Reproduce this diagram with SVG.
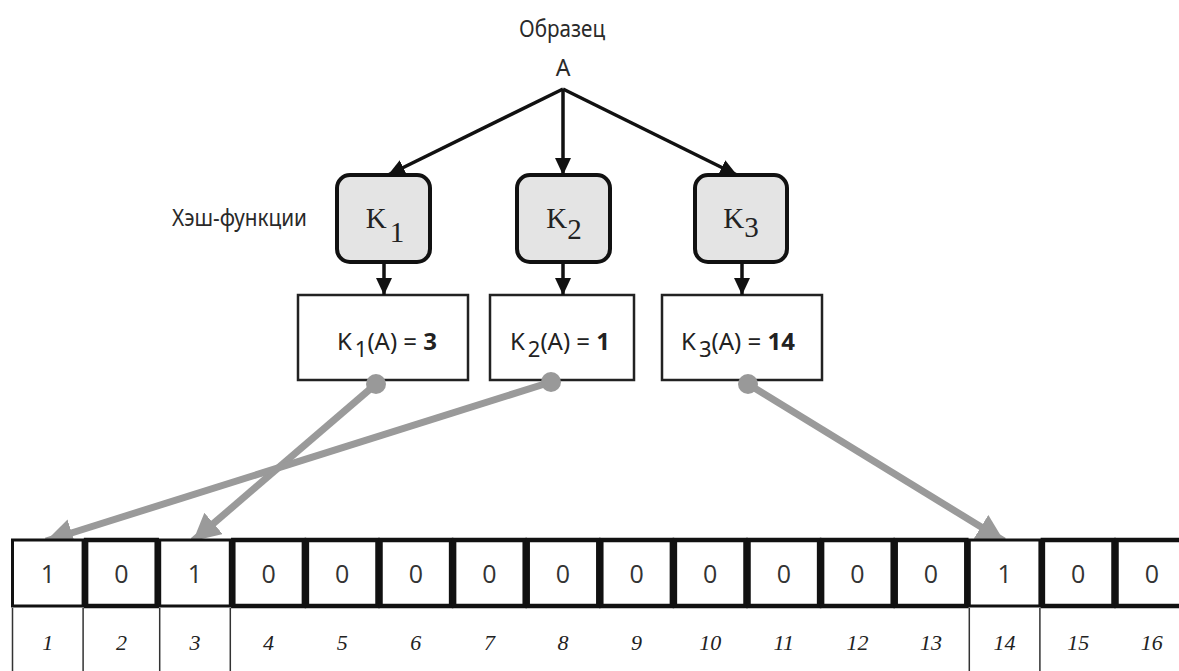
<svg xmlns="http://www.w3.org/2000/svg" width="1179" height="671" viewBox="0 0 1179 671">
  <style>
    .title { font-family: "Noto Sans", "Open Sans", sans-serif; font-size: 23px; fill: #2a2a2a; }
    .hbox { fill: #e4e4e4; stroke: #111; stroke-width: 4; }
    .klabel { font-family: "Liberation Serif", "Times New Roman", serif; font-size: 29px; fill: #222; }
    .rbox { fill: #fff; stroke: #222; stroke-width: 2.5; }
    .rlabel { font-family: "Noto Sans", "Open Sans", sans-serif; font-size: 24px; fill: #222; }
    .bold { font-weight: bold; }
    .black-arrow { stroke: #111; stroke-width: 3.5; fill: none; marker-end: url(#headBlack); }
    .gray-arrow { stroke: #9a9a9a; stroke-width: 7; fill: none; marker-end: url(#headGray); }
    .dot { fill: #999; }
    .cell0 { fill: #fff; stroke: #111; stroke-width: 4.5; }
    .cell1 { fill: #fff; stroke: #111; stroke-width: 3; }
    .bit { font-family: "Open Sans", "Noto Sans", sans-serif; font-size: 25px; fill: #333; text-anchor: middle; }
    .idx { font-family: "Liberation Serif", "Times New Roman", serif; font-style: italic; font-size: 22px; fill: #222; text-anchor: middle; }
    .idxline { stroke: #333; stroke-width: 1.5; fill: none; }
  </style>
  <defs>
    <marker id="headBlack" markerUnits="userSpaceOnUse" markerWidth="18" markerHeight="18" refX="17" refY="8" orient="auto">
      <path d="M0,0 L17,8 L0,16 z" fill="#111"/>
    </marker>
    <marker id="headGray" markerUnits="userSpaceOnUse" markerWidth="30" markerHeight="30" refX="27" refY="14" orient="auto">
      <path d="M0,0 L27,14 L0,28 z" fill="#9a9a9a"/>
    </marker>
  </defs>

  <rect width="1179" height="671" fill="#fff"/>

  <!-- source element -->
  <g id="source">
    <text class="title" x="562" y="37" text-anchor="middle" textLength="86" lengthAdjust="spacingAndGlyphs">Образец</text>
    <text class="title" x="563" y="76" text-anchor="middle" font-size="24">A</text>
  </g>

  <text id="hash-caption" class="title" x="172" y="226" textLength="135" lengthAdjust="spacingAndGlyphs">Хэш-функции</text>

  <!-- hash functions -->
  <g id="hash-k1">
    <rect class="hbox" x="337" y="175" width="93" height="87" rx="13"/>
    <text class="klabel" x="385" y="228" text-anchor="middle">K<tspan dx="3" dy="14">1</tspan></text>
  </g>
  <g id="hash-k2">
    <rect class="hbox" x="517" y="175" width="93" height="87" rx="13"/>
    <text class="klabel" x="564" y="228" text-anchor="middle">K<tspan dy="11">2</tspan></text>
  </g>
  <g id="hash-k3">
    <rect class="hbox" x="695" y="175" width="92" height="87" rx="13"/>
    <text class="klabel" x="741" y="228" text-anchor="middle">K<tspan dy="9">3</tspan></text>
  </g>

  <!-- hash results -->
  <g id="result-1">
    <rect class="rbox" x="298" y="295" width="170" height="85"/>
    <text class="rlabel" x="387" y="350" text-anchor="middle">K<tspan dx="3" dy="7" font-size="22">1</tspan><tspan dy="-7">(A) = </tspan><tspan class="bold">3</tspan></text>
  </g>
  <g id="result-2">
    <rect class="rbox" x="490" y="295" width="144" height="85"/>
    <text class="rlabel" x="560" y="350" text-anchor="middle">K<tspan dx="3" dy="7" font-size="22">2</tspan><tspan dy="-7">(A) = </tspan><tspan class="bold">1</tspan></text>
  </g>
  <g id="result-3">
    <rect class="rbox" x="662" y="295" width="160" height="85"/>
    <text class="rlabel" x="738" y="350" text-anchor="middle">K<tspan dx="3" dy="7" font-size="22">3</tspan><tspan dy="-7">(A) = </tspan><tspan class="bold">14</tspan></text>
  </g>

  <!-- connectors -->
  <g id="connectors">
    <line class="black-arrow" x1="563" y1="89" x2="388" y2="175"/>
    <line class="black-arrow" x1="563" y1="89" x2="563" y2="175"/>
    <line class="black-arrow" x1="563" y1="89" x2="737" y2="175"/>
    <line class="black-arrow" x1="384" y1="262" x2="384" y2="295"/>
    <line class="black-arrow" x1="563" y1="262" x2="563" y2="295"/>
    <line class="black-arrow" x1="742" y1="262" x2="742" y2="295"/>

    <line class="gray-arrow" x1="376" y1="384" x2="193" y2="541"/>
    <line class="gray-arrow" x1="551" y1="382" x2="46" y2="541"/>
    <line class="gray-arrow" x1="748" y1="384" x2="1004" y2="541"/>
    <circle class="dot" cx="376" cy="384" r="10"/>
    <circle class="dot" cx="551" cy="382" r="10"/>
    <circle class="dot" cx="748" cy="384" r="10"/>
  </g>

  <!-- bit array -->
  <g id="bit-array">
    <rect class="cell1" x="12.5" y="540" width="70.6" height="66"/>
    <rect class="cell0" x="86.1" y="540" width="70.6" height="66"/>
    <rect class="cell1" x="159.7" y="540" width="70.6" height="66"/>
    <rect class="cell0" x="233.3" y="540" width="70.6" height="66"/>
    <rect class="cell0" x="306.9" y="540" width="70.6" height="66"/>
    <rect class="cell0" x="380.5" y="540" width="70.6" height="66"/>
    <rect class="cell0" x="454.1" y="540" width="70.6" height="66"/>
    <rect class="cell0" x="527.7" y="540" width="70.6" height="66"/>
    <rect class="cell0" x="601.3" y="540" width="70.6" height="66"/>
    <rect class="cell0" x="674.9" y="540" width="70.6" height="66"/>
    <rect class="cell0" x="748.5" y="540" width="70.6" height="66"/>
    <rect class="cell0" x="822.1" y="540" width="70.6" height="66"/>
    <rect class="cell0" x="895.7" y="540" width="70.6" height="66"/>
    <rect class="cell1" x="969.3" y="540" width="70.6" height="66"/>
    <rect class="cell0" x="1042.9" y="540" width="70.6" height="66"/>
    <rect class="cell0" x="1116.5" y="540" width="70.6" height="66"/>

    <text class="bit" x="47.8" y="583">1</text>
    <text class="bit" x="121.4" y="583">0</text>
    <text class="bit" x="195" y="583">1</text>
    <text class="bit" x="268.6" y="583">0</text>
    <text class="bit" x="342.2" y="583">0</text>
    <text class="bit" x="415.8" y="583">0</text>
    <text class="bit" x="489.4" y="583">0</text>
    <text class="bit" x="563" y="583">0</text>
    <text class="bit" x="636.6" y="583">0</text>
    <text class="bit" x="710.2" y="583">0</text>
    <text class="bit" x="783.8" y="583">0</text>
    <text class="bit" x="857.4" y="583">0</text>
    <text class="bit" x="931" y="583">0</text>
    <text class="bit" x="1004.6" y="583">1</text>
    <text class="bit" x="1078.2" y="583">0</text>
    <text class="bit" x="1151.8" y="583">0</text>

    <!-- index boxes under the set bits -->
    <path class="idxline" d="M12.5,608 V671 M83.1,608 V671 M159.7,608 V671 M230.3,608 V671 M969.3,608 V671 M1039.9,608 V671"/>

    <text class="idx" x="47.8" y="650">1</text>
    <text class="idx" x="121.4" y="650">2</text>
    <text class="idx" x="195" y="650">3</text>
    <text class="idx" x="268.6" y="650">4</text>
    <text class="idx" x="342.2" y="650">5</text>
    <text class="idx" x="415.8" y="650">6</text>
    <text class="idx" x="489.4" y="650">7</text>
    <text class="idx" x="563" y="650">8</text>
    <text class="idx" x="636.6" y="650">9</text>
    <text class="idx" x="710.2" y="650">10</text>
    <text class="idx" x="783.8" y="650">11</text>
    <text class="idx" x="857.4" y="650">12</text>
    <text class="idx" x="931" y="650">13</text>
    <text class="idx" x="1004.6" y="650">14</text>
    <text class="idx" x="1078.2" y="650">15</text>
    <text class="idx" x="1151.8" y="650">16</text>
  </g>
</svg>
